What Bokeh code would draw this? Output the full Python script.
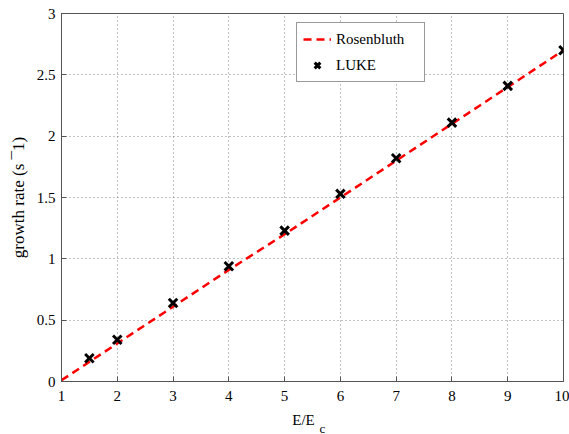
from bokeh.plotting import figure
from bokeh.models import Label, Legend, LegendItem, FixedTicker, Range1d
from bokeh.embed import file_html
from bokeh.resources import INLINE

# Rosenbluth analytic growth rate vs normalised field E/Ec
rosen_x = [1, 2, 3, 4, 5, 6, 7, 8, 9, 10]
rosen_y = [0.01, 0.31, 0.61, 0.91, 1.20, 1.50, 1.80, 2.10, 2.40, 2.70]

# LUKE simulation points
luke_x = [1.5, 2, 3, 4, 5, 6, 7, 8, 9, 10]
luke_y = [0.19, 0.34, 0.64, 0.94, 1.23, 1.53, 1.82, 2.11, 2.41, 2.70]

x_ticks = [1, 2, 3, 4, 5, 6, 7, 8, 9, 10]
y_ticks = [0, 0.5, 1, 1.5, 2, 2.5, 3]

FONT = "Liberation Serif"
AXIS_COLOR = "#555555"

p = figure(width=569, height=434, output_backend="svg", toolbar_location=None,
           x_range=Range1d(1, 10), y_range=Range1d(0, 3),
           min_border_left=61, min_border_right=6, min_border_top=13, min_border_bottom=52)
p.background_fill_color = "white"
p.border_fill_color = "white"
p.outline_line_color = AXIS_COLOR

for ax in (p.xaxis[0], p.yaxis[0]):
    ax.major_tick_in = 5
    ax.major_tick_out = 0
    ax.minor_tick_line_color = None
    ax.axis_line_color = AXIS_COLOR
    ax.major_tick_line_color = AXIS_COLOR
    ax.major_label_text_font = FONT
    ax.major_label_text_font_size = "15px"
    ax.major_label_text_color = "black"

p.xaxis[0].ticker = FixedTicker(ticks=x_ticks)
p.yaxis[0].ticker = FixedTicker(ticks=y_ticks)
p.xaxis[0].major_label_standoff = 9
p.yaxis[0].major_label_standoff = 6
p.yaxis[0].major_label_overrides = {0: "0", 0.5: "0.5", 1: "1", 1.5: "1.5", 2: "2", 2.5: "2.5", 3: "3"}

p.yaxis[0].axis_label = "growth rate (s ¯1)"
p.yaxis[0].axis_label_text_font = FONT
p.yaxis[0].axis_label_text_font_size = "17px"
p.yaxis[0].axis_label_text_font_style = "normal"
p.yaxis[0].axis_label_text_color = "black"
p.yaxis[0].axis_label_standoff = 6

p.xgrid.ticker = FixedTicker(ticks=x_ticks)
p.ygrid.ticker = FixedTicker(ticks=y_ticks)
for g in (p.xgrid[0], p.ygrid[0]):
    g.grid_line_color = "#333333"
    g.grid_line_alpha = 0.6
    g.grid_line_dash = "1 3"
    g.grid_line_width = 1

line = p.line(rosen_x, rosen_y, line_color="red", line_width=2.5, line_dash="8 5")
pts = p.scatter(luke_x, luke_y, marker="x", size=12, line_color="black", line_width=3)

legend = Legend(items=[LegendItem(label="Rosenbluth", renderers=[line]),
                       LegendItem(label="LUKE", renderers=[pts])],
                location=(235, 299))
legend.label_text_font = FONT
legend.label_text_font_size = "15px"
legend.label_text_color = "black"
legend.border_line_color = "#333333"
legend.border_line_width = 1
legend.background_fill_color = "white"
legend.background_fill_alpha = 1
legend.padding = 6
legend.spacing = 6
legend.margin = 0
legend.glyph_width = 28
legend.glyph_height = 20
legend.label_height = 20
legend.label_width = 82
legend.label_standoff = 5
p.add_layout(legend, "center")

# x-axis title with subscript, placed in the bottom panel
p.add_layout(Label(x=242, y=0, x_units="screen", y_units="screen", text="E/E",
                   text_font=FONT, text_font_size="15px", text_align="center",
                   text_baseline="alphabetic", text_color="black"), "below")
p.add_layout(Label(x=258, y=6, x_units="screen", y_units="screen", text="c",
                   text_font=FONT, text_font_size="13px", text_align="left",
                   text_baseline="alphabetic", text_color="black"), "below")

open("out.html", "w").write(file_html(p, INLINE))
